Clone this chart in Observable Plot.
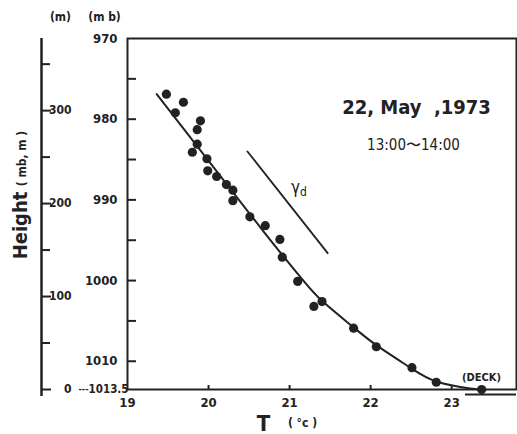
<!DOCTYPE html>
<html><head><meta charset="utf-8">
<script src="https://cdn.jsdelivr.net/npm/d3@7"></script>
<script src="https://cdn.jsdelivr.net/npm/@observablehq/plot@0.6"></script>
<style>
body{margin:0;background:#fff;}
#chart svg{display:block;}
</style>
</head><body><div id="chart"></div>
<script>
// Observed points: temperature (°C) vs pressure (mb)
const temps = [19.48, 19.69, 19.59, 19.90, 19.86, 19.86, 19.80, 19.98, 19.99, 20.10, 20.22, 20.30, 20.30,
  20.51, 20.70, 20.88, 20.91, 21.10, 21.30, 21.40, 21.79, 22.07, 22.51, 22.81, 23.37];
const pressures = [976.9, 977.9, 979.2, 980.2, 981.3, 983.1, 984.1, 984.9, 986.4, 987.1, 988.1, 988.8, 990.1,
  992.1, 993.2, 994.9, 997.1, 1000.1, 1003.2, 1002.6, 1005.9, 1008.2, 1010.8, 1012.6, 1013.5];
// Fitted curve
const curveT = [19.36, 20.67, 21.17, 21.41, 21.79, 22.07, 22.49, 22.81, 23.23, 23.42];
const curveP = [976.9, 993.8, 1000.0, 1002.6, 1005.8, 1008.0, 1010.8, 1012.5, 1013.37, 1013.5];
// Dry adiabatic lapse line (gamma d)
const adiabatT = [20.48, 21.47];
const adiabatP = [984.0, 996.6];
// Deck marker
const deckT = [23.17, 23.80];
// Axes
const tempTicks = [19, 20, 21, 22, 23];
const pressureLabels = [970, 980, 990, 1000, 1010];
const pressureTicks = [975, 980, 985, 990, 995, 1000, 1005, 1010];
const surfacePressure = 1013.5;
const heightMajor = [0, 100, 200, 300];
const heightMinor = [50, 150, 250, 350];
const M_PER_MB = 8.68;

const hToP = h => surfacePressure - h / M_PER_MB;
const points = temps.map((t, i) => ({T: t, p: pressures[i]}));
const curve = curveT.map((t, i) => ({T: t, p: curveP[i]}));
const adiabat = adiabatT.map((t, i) => ({T: t, p: adiabatP[i]}));

const ink = "#222";
const font = "'Liberation Sans Narrow','DejaVu Sans Condensed',sans-serif";
const tl = {frameAnchor: "top-left", textAnchor: "middle", lineAnchor: "middle"};

const chart = Plot.plot({
  width: 517, height: 434,
  marginLeft: 127, marginRight: 1, marginTop: 38, marginBottom: 45,
  style: {fontFamily: font, color: ink, background: "#fff", overflow: "visible"},
  x: {domain: [19, 23.80]},
  y: {domain: [970, 1013.5], reverse: true},
  marks: [
    Plot.frame({stroke: ink, strokeWidth: 2}),
    // pressure axis
    Plot.axisY(pressureLabels, {anchor: "left", tickSize: 0, tickPadding: 10, fontSize: 13, fontWeight: "bold", tickFormat: d => String(d), label: null}),
    Plot.axisY(pressureTicks, {anchor: "right", dx: -389, tickSize: 8, fill: "none", strokeWidth: 2, label: null}),
    Plot.text([surfacePressure], {y: d => d, text: d => String(d), frameAnchor: "left", textAnchor: "end", dx: 1, fontSize: 11.5, fontWeight: "bold"}),
    // temperature axis
    Plot.axisX(tempTicks, {anchor: "bottom", tickSize: 0, tickPadding: 8, fontSize: 13, fontWeight: "bold", label: null}),
    Plot.axisX(tempTicks.slice(1), {anchor: "top", dy: 351, tickSize: 5, fill: "none", strokeWidth: 2, label: null}),
    // height axis
    Plot.ruleX([19], {y1: 970, y2: surfacePressure, dx: -86, insetBottom: -7, stroke: ink, strokeWidth: 2.5}),
    Plot.axisY(heightMajor.map(hToP), {anchor: "right", dx: -475, tickSize: 9, tickPadding: 21, textAnchor: "end",
      tickFormat: p => String(Math.round((surfacePressure - p) * M_PER_MB)), fontSize: 12, fontWeight: "bold", strokeWidth: 2, label: null}),
    Plot.axisY(heightMinor.map(hToP), {anchor: "right", dx: -475, tickSize: 8, fill: "none", strokeWidth: 2, label: null}),
    Plot.text([surfacePressure], {y: d => d, text: () => "---", frameAnchor: "left", dx: -49, fontSize: 9, fontWeight: "bold"}),
    // data
    Plot.line(curve, {x: "T", y: "p", curve: "natural", stroke: ink, strokeWidth: 2}),
    Plot.line(adiabat, {x: "T", y: "p", stroke: ink, strokeWidth: 1.8}),
    Plot.dot(points, {x: "T", y: "p", r: 4.6, fill: ink, stroke: "none"}),
    Plot.ruleY([surfacePressure], {x1: deckT[0], x2: deckT[1], dy: 5, stroke: ink, strokeWidth: 2}),
    // annotations
    Plot.text(["22, May\u00a0\u00a0,1973"], {...tl, dx: 289, dy: 69, fontSize: 20, fontWeight: "bold"}),
    Plot.text(["13:00\u301c14:00"], {...tl, dx: 286, dy: 107, fontSize: 15}),
    Plot.text(["\u03b3"], {...tl, dx: 168, dy: 149, fontSize: 17}),
    Plot.text(["d"], {...tl, dx: 176, dy: 154, fontSize: 12}),
    Plot.text(["(DECK)"], {...tl, dx: 354, dy: 339, fontSize: 11, fontWeight: "bold"}),
    Plot.text(["(m)"], {...tl, dx: -67, dy: -21, fontSize: 12, fontWeight: "bold"}),
    Plot.text(["(m b)"], {...tl, dx: -23, dy: -21, fontSize: 12, fontWeight: "bold"}),
    Plot.text(["Height"], {...tl, dx: -107, dy: 187, rotate: -90, fontSize: 20, fontWeight: "bold"}),
    Plot.text(["( mb, m )"], {...tl, dx: -105, dy: 120, rotate: -90, fontSize: 12, fontWeight: "bold"}),
    Plot.text(["T"], {...tl, frameAnchor: "bottom-left", dx: 136, dy: 34, fontSize: 22, fontWeight: "bold"}),
    Plot.text(["( \u00b0c )"], {...tl, frameAnchor: "bottom-left", dx: 175, dy: 34, fontSize: 12, fontWeight: "bold"})
  ]
});
document.getElementById("chart").appendChild(chart);
</script>
</body></html>
